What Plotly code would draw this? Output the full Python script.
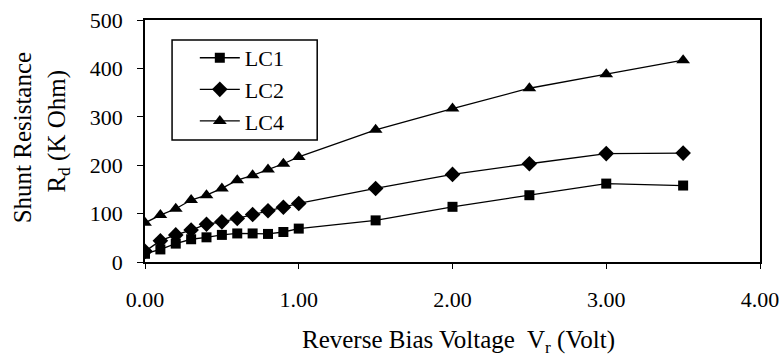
import plotly.graph_objects as go

voltage = [0.0, 0.1, 0.2, 0.3, 0.4, 0.5, 0.6, 0.7, 0.8, 0.9, 1.0, 1.5, 2.0, 2.5, 3.0, 3.5]
lc1 = [17, 26, 38, 47, 51, 56, 59, 59, 58, 62, 69, 86, 114, 138, 162, 158]
lc2 = [22, 44, 56, 66, 78, 83, 90, 98, 106, 113, 121, 152, 181, 203, 224, 225]
lc4 = [81, 97, 110, 128, 138, 152, 169, 179, 191, 203, 217, 273, 317, 359, 388, 417]

x_ticks = [0, 1, 2, 3, 4]
x_ticktext = ["0.00", "1.00", "2.00", "3.00", "4.00"]
y_ticks = [0, 100, 200, 300, 400, 500]

series = [("LC1", lc1, "square", 10), ("LC2", lc2, "diamond", 12), ("LC4", lc4, "triangle-up", 12)]

FONT = "Liberation Serif, Times New Roman, serif"
fig = go.Figure()
for name, vals, sym, sz in series:
    fig.add_trace(go.Scatter(
        x=voltage, y=vals, name=name, mode="lines+markers",
        line=dict(color="black", width=1.3),
        marker=dict(symbol=sym, size=sz, color="black"),
    ))

# legend frame
fig.add_shape(type="rect", xref="paper", yref="paper",
              x0=0.044, x1=0.280, y0=0.504, y1=0.917,
              line=dict(color="black", width=1.5), fillcolor="white", layer="below")

fig.update_layout(
    width=779, height=359,
    margin=dict(l=145, r=19, t=20, b=97, autoexpand=False),
    paper_bgcolor="white", plot_bgcolor="white",
    font=dict(family=FONT, color="black", size=22),
    showlegend=True,
    legend=dict(x=0.081, y=0.93, xanchor="left", yanchor="top",
                borderwidth=0, bgcolor="rgba(0,0,0,0)",
                font=dict(family=FONT, size=22), itemwidth=40,
                tracegroupgap=0),
    xaxis=dict(range=[0, 4], tickvals=x_ticks, ticktext=x_ticktext,
               showgrid=False, zeroline=False, showline=True, linecolor="black",
               linewidth=1.5, mirror=True, ticks="outside", ticklen=5,
               tickcolor="black", ticklabelstandoff=12, ticklabeloverflow="allow",
               automargin=False, tickfont=dict(family=FONT, size=22)),
    yaxis=dict(range=[0, 500], tickvals=y_ticks,
               showgrid=False, zeroline=False, showline=True, linecolor="black",
               linewidth=1.5, mirror=True, ticks="outside", ticklen=6,
               tickcolor="black", ticklabelstandoff=10,
               automargin=False, tickfont=dict(family=FONT, size=22)),
    annotations=[
        dict(text="Reverse Bias Voltage  V<sub>r</sub> (Volt)", xref="paper", yref="paper",
             x=0.51, y=-0.33, xanchor="center", yanchor="middle", showarrow=False,
             font=dict(family=FONT, size=25)),
        dict(text="Shunt Resistance", xref="paper", yref="paper",
             x=-0.2, y=0.515, xanchor="center", yanchor="middle", showarrow=False,
             textangle=-90, font=dict(family=FONT, size=25)),
        dict(text="R<sub>d</sub> (K Ohm)", xref="paper", yref="paper",
             x=-0.141, y=0.54, xanchor="center", yanchor="middle", showarrow=False,
             textangle=-90, font=dict(family=FONT, size=25)),
    ],
)

fig.write_html("out.html")
